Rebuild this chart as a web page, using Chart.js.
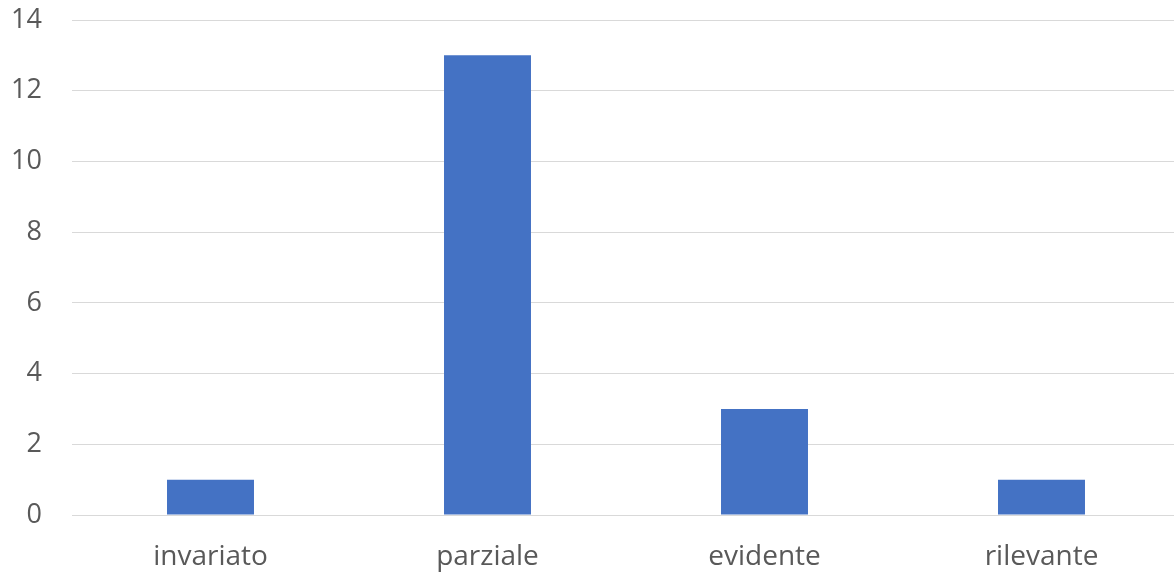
<!DOCTYPE html>
<html>
<head>
<meta charset="utf-8">
<script src="https://cdn.jsdelivr.net/npm/chart.js@4/dist/chart.umd.min.js"></script>
<style>
  html, body { margin: 0; padding: 0; overflow: hidden; background: #fff; }
  #wrap { width: 1180px; height: 578px; }
</style>
</head>
<body>
<div id="wrap"><canvas id="bar-chart"></canvas></div>
<script>
  var categorie = ['invariato', 'parziale', 'evidente', 'rilevante'];
  var valori = [1, 13, 3, 1];
  var yMin = 0, yMax = 14, yStep = 2;

  var ctx = document.getElementById('bar-chart');
  var chart = new Chart(ctx, {
    type: 'bar',
    data: {
      labels: categorie,
      datasets: [{
        data: valori,
        backgroundColor: '#4472C4',
        borderWidth: 0,
        categoryPercentage: 1,
        barPercentage: 0.314
      }]
    },
    options: {
      responsive: true,
      maintainAspectRatio: false,
      animation: false,
      layout: { padding: { top: 20, right: 0, left: 0, bottom: 0 } },
      plugins: { legend: { display: false }, tooltip: { enabled: false } },
      scales: {
        x: {
          grid: { display: false, drawTicks: false },
          border: { display: true, color: '#d9d9d9', width: 1 },
          ticks: {
            color: '#595959',
            font: { family: 'Open Sans', size: 28 },
            padding: 25
          },
          afterFit: function (axis) { axis.height = 63; axis.paddingLeft = 0; axis.paddingRight = 0; }
        },
        y: {
          min: yMin,
          max: yMax,
          ticks: {
            stepSize: yStep,
            color: '#595959',
            font: { family: 'Open Sans', size: 27 },
            padding: 30
          },
          grid: { color: '#d9d9d9', lineWidth: 1, drawTicks: false },
          border: { display: false },
          afterFit: function (axis) { axis.width = 72; axis.paddingTop = 0; axis.paddingBottom = 0; }
        }
      }
    }
  });
</script>
</body>
</html>
